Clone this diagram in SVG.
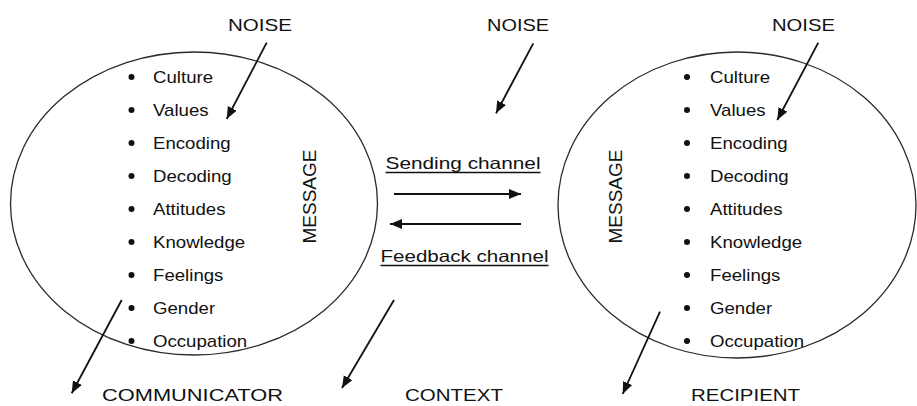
<svg xmlns="http://www.w3.org/2000/svg" width="917" height="406" viewBox="0 0 917 406">
  <style>
    .oval { fill: none; stroke: #2a2a2a; stroke-width: 1.3; }
    .item { font-family: "Liberation Sans", Arial, sans-serif; font-size: 16px; fill: #111; }
    .label { font-family: "Liberation Sans", Arial, sans-serif; font-size: 16.5px; fill: #111; }
    .msg { font-family: "Liberation Sans", Arial, sans-serif; font-size: 19px; fill: #111; }
    .dot { fill: #111; }
    .arrow { stroke: #111; stroke-width: 1.8; fill: none; marker-end: url(#head); }
    .rule { stroke: #111; stroke-width: 1.3; }
  </style>
  <defs>
    <marker id="head" markerUnits="userSpaceOnUse" markerWidth="13" markerHeight="11" refX="12" refY="5" orient="auto">
      <path d="M0,0 L12,5 L0,10 Z" fill="#111"/>
    </marker>
  </defs>

  <!-- communicator circle -->
  <g id="communicator">
    <ellipse class="oval" cx="194" cy="203.5" rx="183.5" ry="151.5"/>
    <g class="dot">
      <circle cx="131.5" cy="77" r="3"/>
      <circle cx="131.5" cy="110" r="3"/>
      <circle cx="131.5" cy="143" r="3"/>
      <circle cx="131.5" cy="176" r="3"/>
      <circle cx="131.5" cy="209" r="3"/>
      <circle cx="131.5" cy="242" r="3"/>
      <circle cx="131.5" cy="275" r="3"/>
      <circle cx="131.5" cy="308" r="3"/>
      <circle cx="131.5" cy="341" r="3"/>
    </g>
    <g class="item" transform="translate(153 0) scale(1.165 1)">
      <text x="0" y="83">Culture</text>
      <text x="0" y="116">Values</text>
      <text x="0" y="149">Encoding</text>
      <text x="0" y="182">Decoding</text>
      <text x="0" y="215">Attitudes</text>
      <text x="0" y="248">Knowledge</text>
      <text x="0" y="281">Feelings</text>
      <text x="0" y="314">Gender</text>
      <text x="0" y="347">Occupation</text>
    </g>
    <text class="msg" text-anchor="middle" transform="translate(316 196.5) rotate(-90)">MESSAGE</text>
    <text class="label" x="102" y="401" textLength="181" lengthAdjust="spacingAndGlyphs">COMMUNICATOR</text>
  </g>

  <!-- recipient circle -->
  <g id="recipient">
    <ellipse class="oval" cx="737" cy="205" rx="179" ry="153"/>
    <g class="dot">
      <circle cx="687" cy="77" r="3"/>
      <circle cx="687" cy="110" r="3"/>
      <circle cx="687" cy="143" r="3"/>
      <circle cx="687" cy="176" r="3"/>
      <circle cx="687" cy="209" r="3"/>
      <circle cx="687" cy="242" r="3"/>
      <circle cx="687" cy="275" r="3"/>
      <circle cx="687" cy="308" r="3"/>
      <circle cx="687" cy="341" r="3"/>
    </g>
    <g class="item" transform="translate(710 0) scale(1.165 1)">
      <text x="0" y="83">Culture</text>
      <text x="0" y="116">Values</text>
      <text x="0" y="149">Encoding</text>
      <text x="0" y="182">Decoding</text>
      <text x="0" y="215">Attitudes</text>
      <text x="0" y="248">Knowledge</text>
      <text x="0" y="281">Feelings</text>
      <text x="0" y="314">Gender</text>
      <text x="0" y="347">Occupation</text>
    </g>
    <text class="msg" text-anchor="middle" transform="translate(622 196.5) rotate(-90)">MESSAGE</text>
    <text class="label" x="691" y="401" textLength="109" lengthAdjust="spacingAndGlyphs">RECIPIENT</text>
  </g>

  <!-- noise sources and context -->
  <g id="noise-left">
    <text class="label" x="228" y="31" textLength="64" lengthAdjust="spacingAndGlyphs">NOISE</text>
  </g>
  <g id="noise-middle">
    <text class="label" x="487" y="31" textLength="62" lengthAdjust="spacingAndGlyphs">NOISE</text>
  </g>
  <g id="noise-right">
    <text class="label" x="772" y="31" textLength="63" lengthAdjust="spacingAndGlyphs">NOISE</text>
  </g>
  <g id="context">
    <text class="label" x="405" y="401" textLength="98" lengthAdjust="spacingAndGlyphs">CONTEXT</text>
  </g>

  <!-- channel labels -->
  <g id="sending-channel">
    <text class="label" x="385.5" y="169" textLength="155" lengthAdjust="spacingAndGlyphs">Sending channel</text>
    <line class="rule" x1="385.5" y1="172.5" x2="540.5" y2="172.5"/>
  </g>
  <g id="feedback-channel">
    <text class="label" x="380.5" y="262" textLength="168" lengthAdjust="spacingAndGlyphs">Feedback channel</text>
    <line class="rule" x1="380.5" y1="265.5" x2="548.5" y2="265.5"/>
  </g>

  <!-- connectors -->
  <g id="connectors">
    <line class="arrow" x1="266.7" y1="42.7" x2="226.7" y2="119"/>
    <line class="arrow" x1="533.3" y1="43.3" x2="496" y2="113.3"/>
    <line class="arrow" x1="818.3" y1="42.7" x2="777.3" y2="120"/>
    <line class="arrow" x1="121.7" y1="300" x2="71.7" y2="393.3"/>
    <line class="arrow" x1="394" y1="300" x2="342" y2="388"/>
    <line class="arrow" x1="660" y1="311.7" x2="622.7" y2="394"/>
    <line class="arrow" x1="394" y1="194" x2="521" y2="194"/>
    <line class="arrow" x1="521" y1="224" x2="390" y2="224"/>
  </g>
</svg>
